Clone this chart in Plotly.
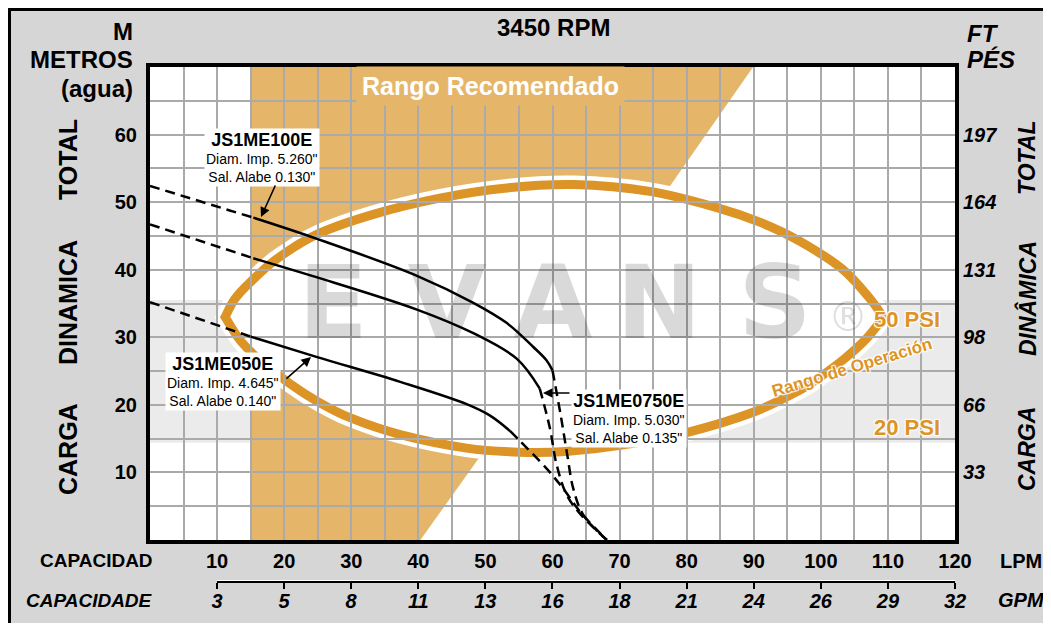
import plotly.graph_objects as go

# ---------------- data ----------------
lpm_ticks = [10, 20, 30, 40, 50, 60, 70, 80, 90, 100, 110, 120]
gpm_labels = ["3", "5", "8", "11", "13", "16", "18", "21", "24", "26", "29", "32"]
m_ticks = [10, 20, 30, 40, 50, 60]
ft_labels = ["33", "66", "98", "131", "164", "197"]

# JS1ME100E  (LPM, metres)
q100_low = [0.0, 15.4]
h100_low = [52.4, 47.7]
q100 = [15.4, 24.8, 39.8, 48.2, 53.2, 57.1, 59.1, 60.0]
h100 = [47.7, 44.6, 39.1, 35.1, 32.1, 28.6, 26.6, 25.1]
q100_high = [60.0, 61.2, 62.2, 63.1, 64.6, 68.1]
h100_high = [25.1, 18.6, 12.6, 7.6, 3.7, 0.0]

# JS1ME0750E
q075_low = [0.0, 15.4]
h075_low = [46.7, 41.7]
q075 = [15.4, 24.8, 39.8, 48.2, 54.7, 58.1]
h075 = [41.7, 38.9, 34.1, 30.6, 26.8, 22.4]
q075_high = [58.1, 59.6, 60.6, 62.1, 64.1, 68.1]
h075_high = [22.4, 16.6, 11.2, 6.7, 3.9, 0.0]

# JS1ME050E
q050_low = [0.0, 15.0]
h050_low = [35.2, 30.1]
q050 = [15.0, 24.8, 37.3, 47.2, 50.7, 53.7]
h050 = [30.1, 27.1, 23.4, 20.1, 18.4, 16.1]
q050_high = [53.7, 55.2, 59.1, 61.6, 64.1, 68.1]
h050_high = [16.1, 14.6, 10.6, 7.6, 4.2, 0.0]

# Rango de Operacion (upper arc left->right, lower arc right->left)
op_upper_q = [11.2, 12.6, 14.9, 18.9, 24.8, 33.3, 43.2, 53.2, 63.1, 74.5, 84.5, 91.0, 96.9, 103.2, 107.5, 109.3]
op_upper_h = [33.0, 35.6, 38.1, 41.6, 45.2, 48.2, 50.6, 52.1, 52.6, 51.6, 49.2, 47.0, 44.2, 40.1, 35.5, 32.9]
op_lower_q = [109.3, 106.8, 103.5, 100.0, 96.9, 89.9, 80.0, 70.1, 62.0, 55.0, 47.2, 37.3, 29.8, 24.8, 20.9, 16.4, 13.4, 11.2]
op_lower_h = [32.9, 29.8, 26.8, 24.2, 22.2, 18.9, 15.9, 14.0, 13.1, 13.0, 13.6, 15.6, 18.1, 20.6, 23.1, 26.6, 29.6, 33.0]

# Rango Recomendado polygon
rec_q = [15.2, 15.2, 89.9, 77.6, 48.8, 40.3]
rec_h = [0.0, 70.0, 70.0, 52.5, 11.8, 0.0]

# pressure band (20 PSI .. 50 PSI)
psi_band_h = [14.4, 35.5]

# ---------------- styling / layout ----------------
OX, OY = 8, 8                 # page offset of the figure (body margin)
W, H = 1035, 615
ML, MR, MT, MB = 142, 88, 59, 12
PW, PH = W - ML - MR, H - MT - MB
FONT = "Liberation Sans, Arial, sans-serif"
BG = "#d6d6d6"
TAN = "#e5b66a"
ORANGE = "#dc9426"
GRID = "#aaaaaa"


def px_x(p):
    return (p - OX - ML) / PW


def px_y(p):
    return (OY + H - MB - p) / PH


def lpm_at(p):
    return (p - 150) / 805 * 120


def m_at(p):
    return (540 - p) / 473 * 70


def smooth(xs, ys, start=True):
    pts = list(zip(xs, ys))
    n = len(pts)
    s = f"M {pts[0][0]},{pts[0][1]}" if start else ""
    for i in range(n - 1):
        p0 = pts[max(i - 1, 0)]
        p1 = pts[i]
        p2 = pts[i + 1]
        p3 = pts[min(i + 2, n - 1)]
        c1 = (p1[0] + (p2[0] - p0[0]) / 6, p1[1] + (p2[1] - p0[1]) / 6)
        c2 = (p2[0] - (p3[0] - p1[0]) / 6, p2[1] - (p3[1] - p1[1]) / 6)
        s += f" C {c1[0]:.3f},{c1[1]:.3f} {c2[0]:.3f},{c2[1]:.3f} {p2[0]},{p2[1]}"
    return s


ellipse_path = smooth(op_upper_q, op_upper_h) + smooth(op_lower_q, op_lower_h, start=False) + " Z"
rec_path = "M " + " L ".join(f"{q},{h}" for q, h in zip(rec_q, rec_h)) + " Z"

fig = go.Figure()

# watermark
wm_x = [lpm_at(p) for p in (333, 447, 553, 659, 775)]
fig.add_trace(go.Scatter(
    x=wm_x, y=[m_at(312)] * 5, mode="text", text=["E", "V", "A", "N", "S"],
    textfont=dict(family="DejaVu Sans", size=102, color="rgba(0,0,0,0.15)", weight="bold"),
    hoverinfo="skip", showlegend=False))
fig.add_trace(go.Scatter(
    x=[lpm_at(848)], y=[m_at(321)], mode="text", text=["®"],
    textfont=dict(family="DejaVu Sans", size=40, color="rgba(0,0,0,0.15)"),
    hoverinfo="skip", showlegend=False))

solid = dict(color="black", width=2.5, shape="spline")
dashed = dict(color="black", width=2.5, dash="10px,6px", shape="spline")
for qs, hs, st in [
    (q100_low, h100_low, dashed), (q100, h100, solid), (q100_high, h100_high, dashed),
    (q075_low, h075_low, dashed), (q075, h075, solid), (q075_high, h075_high, dashed),
    (q050_low, h050_low, dashed), (q050, h050, solid), (q050_high, h050_high, dashed),
]:
    fig.add_trace(go.Scatter(x=qs, y=hs, mode="lines", line=st, hoverinfo="skip", showlegend=False))

# invisible helpers for secondary axes
fig.add_trace(go.Scatter(x=[0, 120], y=[0, 70], yaxis="y2", mode="markers",
                         marker=dict(opacity=0), hoverinfo="skip", showlegend=False))
fig.add_trace(go.Scatter(x=[10, 120], y=[0.5, 0.5], xaxis="x2", yaxis="y3", mode="markers",
                         marker=dict(opacity=0), hoverinfo="skip", showlegend=False))

shapes = [
    dict(type="rect", xref="x", yref="y", x0=0, x1=120, y0=psi_band_h[0], y1=psi_band_h[1],
         fillcolor="#ebebeb", line=dict(width=0), layer="below"),
    dict(type="path", xref="x", yref="y", path=rec_path, fillcolor=TAN, line=dict(width=0), layer="below"),
    dict(type="path", xref="x", yref="y", path=ellipse_path, fillcolor="white",
         line=dict(color="white", width=18), layer="below"),
    dict(type="path", xref="x", yref="y", path=ellipse_path, fillcolor="rgba(0,0,0,0)",
         line=dict(color=ORANGE, width=9), layer="below"),
    dict(type="rect", xref="paper", yref="paper", x0=px_x(9.5), x1=px_x(1070), y0=px_y(650), y1=px_y(9.5),
         fillcolor="rgba(0,0,0,0)", line=dict(color="black", width=3), layer="above"),
]

ann = []


def text(t, x, y, size, bold=True, italic=False, xanchor="center", angle=0, color="black", fextra=None, **kw):
    ann.append(dict(text=t, xref="paper", yref="paper", x=px_x(x), y=px_y(y), xanchor=xanchor,
                    yanchor="middle", showarrow=False, textangle=angle,
                    font=dict(family=FONT, size=size, color=color,
                              weight="bold" if bold else "normal",
                              style="italic" if italic else "normal", **(fextra or {})),
                    **kw))


text("3450 RPM", 553, 28, 24)
text("M", 135, 32, 24, xanchor="right")
text("METROS", 135, 60, 24, xanchor="right")
text("(agua)", 135, 89, 24, xanchor="right")
text("TOTAL", 68, 160, 25, angle=-90)
text("DINAMICA", 68, 303, 25, angle=-90)
text("CARGA", 68, 449, 25, angle=-90)
text("FT", 965, 33, 24, italic=True, xanchor="left")
text("PÉS", 965, 60, 24, italic=True, xanchor="left")
text("TOTAL", 1027, 158, 23, italic=True, angle=-90)
text("DINÂMICA", 1027, 299, 23, italic=True, angle=-90)
text("CARGA", 1027, 449, 23, italic=True, angle=-90)
text("CAPACIDAD", 155, 560, 19, xanchor="right")
text("CAPACIDADE", 155, 600, 19, italic=True, xanchor="right")
text("LPM", 1021, 561, 20)
text("GPM", 1021, 600, 20, italic=True)

text("Rango Recomendado", 490, 86, 25, color="white", bgcolor=TAN, borderpad=5)
halo = "1px 1px 1px white, -1px -1px 1px white, 1px -1px 1px white, -1px 1px 1px white"
text("50 PSI", 942, 319, 22, color=ORANGE, xanchor="right", fextra=dict(shadow=halo))
text("20 PSI", 942, 427, 22, color=ORANGE, xanchor="right", fextra=dict(shadow=halo))
text("Rango de Operación", 852, 368, 17, color=ORANGE, angle=-17, fextra=dict(shadow=halo))


def label(name, l1, l2, cx, cy):
    ann.append(dict(
        text=f"<span style='font-size:18px'><b>{name}</b></span><br>{l1}<br>{l2}",
        xref="paper", yref="paper", x=px_x(cx), y=px_y(cy), xanchor="center", yanchor="middle",
        showarrow=False, bgcolor="white", borderpad=1, align="center",
        font=dict(family=FONT, size=14, color="black")))


label("JS1ME100E", "Diam. Imp. 5.260\"", "Sal. Alabe 0.130\"", 262, 157)
label("JS1ME050E", "Diam. Imp. 4.645\"", "Sal. Alabe 0.140\"", 223, 381)
label("JS1ME0750E", "Diam. Imp. 5.030\"", "Sal. Alabe 0.135\"", 629, 418)


def arrow(tx, ty, hx, hy):
    ann.append(dict(text="", xref="x", yref="y", axref="x", ayref="y",
                    x=lpm_at(hx), y=m_at(hy), ax=lpm_at(tx), ay=m_at(ty),
                    showarrow=True, arrowhead=2, arrowsize=1.2, arrowwidth=1.6, arrowcolor="black"))


arrow(276, 184, 261, 217)
arrow(285, 380, 311, 357)
arrow(571, 393, 543, 393)

grid = dict(showgrid=True, gridcolor=GRID, gridwidth=2)
minor = dict(dtick=5, tick0=0, showgrid=True, gridcolor=GRID, gridwidth=2)
tickfont = dict(family=FONT, size=20, color="black", weight="bold")

fig.update_layout(
    width=W, height=H, margin=dict(l=ML, r=MR, t=MT, b=MB, pad=0),
    paper_bgcolor=BG, plot_bgcolor="white", showlegend=False,
    shapes=shapes, annotations=ann,
    xaxis=dict(range=[0, 120], domain=[0, 1], anchor="y", tickmode="array", tickvals=lpm_ticks,
               ticktext=[str(v) for v in lpm_ticks], tickfont=tickfont, ticks="",
               ticklabelstandoff=0, showline=True, linecolor="black", linewidth=4, mirror=True,
               zeroline=False, minor=minor, fixedrange=True, **grid),
    yaxis=dict(range=[0, 70], domain=[px_y(540), 1], anchor="x", tickmode="array", tickvals=m_ticks,
               ticktext=[str(v) for v in m_ticks], tickfont=tickfont, ticks="",
               ticklabelstandoff=5, showline=True, linecolor="black", linewidth=4, mirror=True,
               zeroline=False, minor=minor, fixedrange=True, **grid),
    yaxis2=dict(range=[0, 70], overlaying="y", side="right", anchor="x", tickmode="array",
                tickvals=m_ticks, ticktext=ft_labels, ticks="", ticklabelstandoff=7,
                tickfont=dict(family=FONT, size=20, color="black", weight="bold", style="italic"),
                showgrid=False, zeroline=False, showline=False, fixedrange=True),
    xaxis2=dict(range=[10, 120], domain=[px_x(217), 1], anchor="y3", tickmode="array",
                tickvals=lpm_ticks, ticktext=gpm_labels, ticks="outside", ticklen=6, tickwidth=2,
                tickcolor="black", showline=True, linecolor="black", linewidth=2,
                tickfont=dict(family=FONT, size=20, color="black", weight="bold", style="italic"),
                ticklabelstandoff=-5, showgrid=False, zeroline=False, fixedrange=True),
    yaxis3=dict(domain=[px_y(581), px_y(580)], range=[0, 1], visible=False, anchor="x2", fixedrange=True),
)

fig.write_html("out.html")
